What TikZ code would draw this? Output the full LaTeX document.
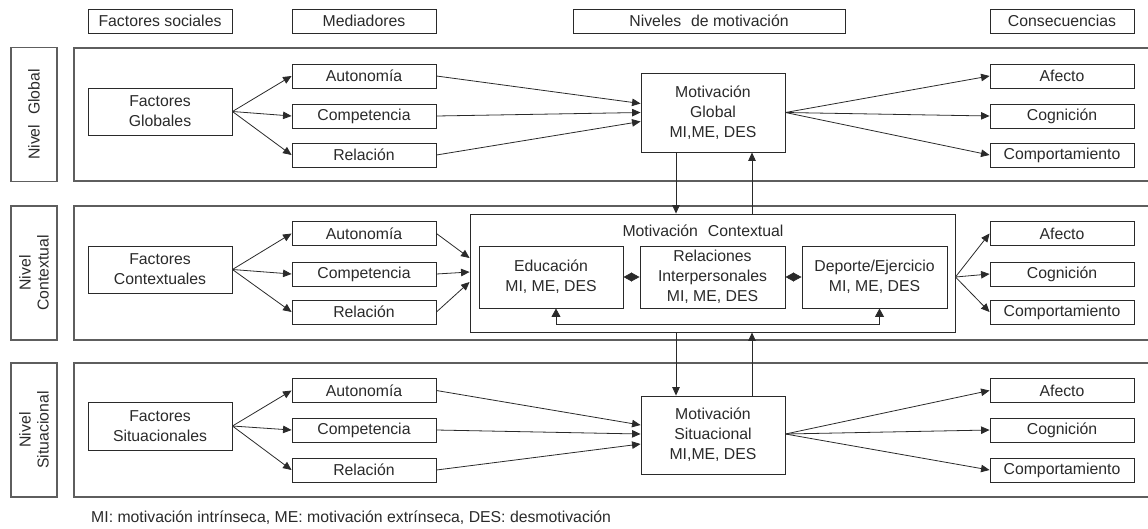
\documentclass[tikz,border=0pt]{standalone}
\usepackage{fontspec}
\setmainfont{Liberation Sans}
\usetikzlibrary{arrows.meta}
\definecolor{ink}{HTML}{2A2A2A}
\definecolor{frame}{HTML}{5E5E5E}
\begin{document}
\begin{tikzpicture}[x=1pt,y=-1pt,
 every node/.style={font=\fontsize{15.8}{20}\selectfont, text=ink},
 box/.style={draw=ink, line width=0.9pt, inner sep=0pt, align=center, minimum height=24pt, minimum width=144pt},
 lvl/.style={draw=frame, line width=1.1pt, inner sep=0pt, align=center, minimum width=134pt, minimum height=46pt, rotate=90, font=\fontsize{15.8}{18}\selectfont},
 panel/.style={draw=frame, line width=1.3pt},
 arr/.style={draw=ink, line width=0.8pt, -{Triangle[length=8.5pt,width=7.5pt]}},
 dbl/.style={draw=ink, line width=0.8pt, {Triangle[length=8.5pt,width=9pt]}-{Triangle[length=8.5pt,width=9pt]}},
]
\useasboundingbox (0,0) rectangle (1148,528);
% headers
\node[box] (hFS) at (160,21) {Factores sociales};
\node[box] (hMed) at (364,21) {Mediadores};
\node[box, minimum width=272pt] (hNiv) at (709,21) {Niveles\hspace{0.35em} de motivación};
\node[box] (hCon) at (1062,21) {Consecuencias};
% panels
\draw[panel] (74,48) rectangle (1155,181);
\draw[panel] (74,206) rectangle (1155,340);
\draw[panel] (74,363) rectangle (1155,497);
% level labels
\node[lvl] (LG) at (34,114.5) {Nivel\hspace{0.35em} Global};
\node[lvl] (LC) at (34,273) {Nivel\\Contextual};
\node[lvl] (LS) at (34,430) {Nivel\\Situacional};

% ---------- global ----------
\node[box, minimum height=47pt] (FG) at (160,111.5) {Factores\\Globales};
\node[box] (A1) at (364,76) {Autonomía};
\node[box] (C1) at (364,116) {Competencia};
\node[box] (R1) at (364,155) {Relación};
\node[box, minimum height=79pt] (MG) at (713,112.5) {Motivación\\Global\\MI,ME, DES};
\node[box] (Af1) at (1062,76) {Afecto};
\node[box] (Co1) at (1062,116) {Cognición};
\node[box] (Cp1) at (1062,155) {Comportamiento};
\foreach \m in {A1,C1,R1} \draw[arr] (FG.east) -- (\m.west);
\draw[arr] (A1.east) -- ([yshift=9pt]MG.west);
\draw[arr] (C1.east) -- ([yshift=0pt]MG.west);
\draw[arr] (R1.east) -- ([yshift=-9pt]MG.west);
\foreach \m in {Af1,Co1,Cp1} \draw[arr] (MG.east) -- (\m.west);

% ---------- contextual ----------
\node[box, minimum height=47pt] (FC) at (160,269.5) {Factores\\Contextuales};
\node[box] (A2) at (364,233.5) {Autonomía};
\node[box] (C2) at (364,274) {Competencia};
\node[box] (R2) at (364,312) {Relación};
\node[draw=ink, line width=0.9pt, minimum width=485pt, minimum height=118pt, inner sep=0pt] (MC) at (712.5,273) {};
\node (MCt) at (703,231) {Motivación\hspace{0.35em} Contextual};
\node[box, minimum height=62pt] (Ed) at (551,277) {Educación\\MI, ME, DES};
\node[box, minimum height=62pt, minimum width=145pt] (Rel) at (712.5,277) {Relaciones\\Interpersonales\\MI, ME, DES};
\node[box, minimum height=62pt, minimum width=145pt] (Dep) at (874.5,277) {Deporte/Ejercicio\\MI, ME, DES};
\node[box] (Af2) at (1062,233.5) {Afecto};
\node[box] (Co2) at (1062,274) {Cognición};
\node[box] (Cp2) at (1062,312) {Comportamiento};
\foreach \m in {A2,C2,R2} \draw[arr] (FC.east) -- (\m.west);
\draw[arr] (A2.east) -- ([yshift=15pt]MC.west);
\draw[arr] (C2.east) -- ([yshift=1pt]MC.west);
\draw[arr] (R2.east) -- ([yshift=-9pt]MC.west);
\foreach \m in {Af2,Co2,Cp2} \draw[arr] ([yshift=-4pt]MC.east) -- (\m.west);
\draw[dbl] (Ed.east) -- (Rel.west);
\draw[dbl] (Rel.east) -- (Dep.west);
\draw[dbl] ([xshift=5pt]Ed.south) -- ++(0,16) -| ([xshift=5pt]Dep.south);

% ---------- situational ----------
\node[box, minimum height=48pt] (FS) at (160,426) {Factores\\Situacionales};
\node[box] (A3) at (364,390.5) {Autonomía};
\node[box] (C3) at (364,430) {Competencia};
\node[box] (R3) at (364,470) {Relación};
\node[box, minimum height=78pt] (MS) at (713,435) {Motivación\\Situacional\\MI,ME, DES};
\node[box] (Af3) at (1062,390.5) {Afecto};
\node[box] (Co3) at (1062,430) {Cognición};
\node[box] (Cp3) at (1062,470) {Comportamiento};
\foreach \m in {A3,C3,R3} \draw[arr] (FS.east) -- (\m.west);
\draw[arr] (A3.east) -- ([yshift=10pt]MS.west);
\draw[arr] (C3.east) -- ([yshift=1pt]MS.west);
\draw[arr] (R3.east) -- ([yshift=-9pt]MS.west);
\foreach \m in {Af3,Co3,Cp3} \draw[arr] ([yshift=1pt]MS.east) -- (\m.west);

% ---------- vertical links ----------
\draw[arr] ([xshift=-37pt]MG.south) -- ([xshift=-37pt]MG.south |- MC.north);
\draw[arr] ([xshift=39pt]MG.south |- MC.north) -- ([xshift=39pt]MG.south);
\draw[arr] ([xshift=-37pt]MS.north |- MC.south) -- ([xshift=-37pt]MS.north);
\draw[arr] ([xshift=39pt]MS.north) -- ([xshift=39pt]MS.north |- MC.south);

% footnote
\node[anchor=west, inner sep=0pt] (fn) at (91,518) {MI: motivación intrínseca, ME: motivación extrínseca, DES: desmotivación};
\end{tikzpicture}
\end{document}
